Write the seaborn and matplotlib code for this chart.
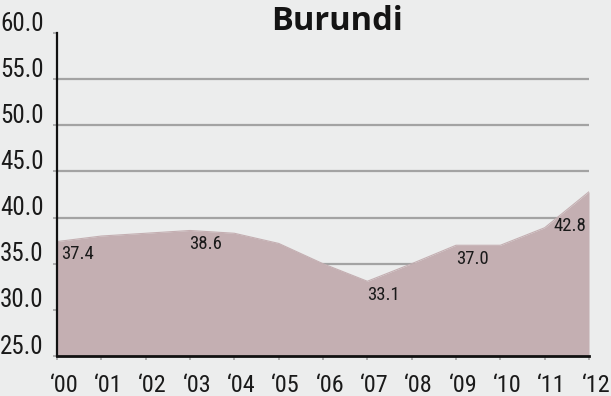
import matplotlib
matplotlib.use("Agg")
import matplotlib.pyplot as plt
import matplotlib.transforms as mtransforms
from matplotlib import font_manager
import seaborn as sns
import pandas as pd

# Data
years = ["‘00", "‘01", "‘02", "‘03", "‘04", "‘05", "‘06", "‘07", "‘08", "‘09", "‘10", "‘11", "‘12"]
values = [37.4, 38.0, 38.3, 38.6, 38.3, 37.2, 35.0, 33.1, 35.0, 37.0, 37.0, 38.9, 42.8]
labelled_years = ["‘00", "‘03", "‘07", "‘09", "‘12"]
y_ticks = [25.0, 30.0, 35.0, 40.0, 45.0, 50.0, 55.0, 60.0]
title = "Burundi"

BG = "#ECEDED"
FILL = "#C4AFB2"
GRID = "#A3A3A3"


def narrow_font():
    """Pick a condensed sans face if one is installed."""
    entries = font_manager.fontManager.ttflist
    wanted = ["Liberation Sans Narrow", "Roboto Condensed", "Open Sans Condensed",
              "DejaVu Sans Condensed", "Noto Sans Condensed"]
    for name in wanted:
        for f in entries:
            if f.name == name and f.weight in (400, "normal", "regular") and f.style == "normal":
                return font_manager.FontProperties(fname=f.fname)
    for f in entries:
        st = str(f.stretch).lower()
        if ("condensed" in st or st in ("75", "62.5", "87.5")) and f.style == "normal" \
                and "Mono" not in f.name and "Serif" not in f.name and f.weight in (400, "normal", "regular"):
            return font_manager.FontProperties(fname=f.fname)
    for f in entries:
        fn = f.fname.lower()
        if ("condensed" in fn or "narrow" in fn) and "bold" not in fn and "italic" not in fn \
                and "oblique" not in fn and "mono" not in fn and "serif" not in fn:
            return font_manager.FontProperties(fname=f.fname)
    return font_manager.FontProperties(family="DejaVu Sans", stretch="condensed")


def bold_font():
    """Pick a static bold humanist sans face for the heading."""
    entries = font_manager.fontManager.ttflist
    for stem in ["opensans-bold.", "notosans-bold.", "lato-bold.", "liberationsans-bold.",
                 "dejavusans-bold."]:
        for f in entries:
            if f.fname.lower().rsplit("/", 1)[-1].startswith(stem):
                return font_manager.FontProperties(fname=f.fname)
    return font_manager.FontProperties(family="DejaVu Sans", weight="bold")


sns.set_theme(style="white")
plt.rcParams["font.family"] = ["DejaVu Sans"]
NARROW = narrow_font()
BOLD = bold_font()


def nfp(size):
    fp = NARROW.copy()
    fp.set_size(size)
    return fp


df = pd.DataFrame({"idx": range(len(years)), "year": years, "value": values})

fig = plt.figure(figsize=(6.11, 3.96), dpi=100, facecolor=BG)
ax = fig.add_axes([57 / 611, 1 - 356 / 396, (589 - 57) / 611, (356 - 33) / 396])
ax.set_facecolor(BG)

# Horizontal guides behind the area
for yv in y_ticks[1:-1]:
    ax.axhline(yv, color=GRID, lw=1.6, zorder=0.5)

ax.fill_between(df["idx"], y_ticks[0], df["value"], color=FILL, lw=0, zorder=1)
sns.lineplot(data=df, x="idx", y="value", color=FILL, lw=0.8, ax=ax, zorder=1.1)

ax.set_xlim(0, len(years) - 1)
ax.set_ylim(y_ticks[0], y_ticks[-1])
ax.set_xlabel("")
ax.set_ylabel("")

# Value annotations
offsets = {
    "‘00": (4, -12, "left"),
    "‘03": (-1, -14, "left"),
    "‘07": (0, -14, "left"),
    "‘09": (0, -14, "left"),
    "‘12": (-3, -34, "right"),
}
for yr in labelled_years:
    i = years.index(yr)
    dx, dy, ha = offsets[yr]
    ax.annotate(f"{values[i]:.1f}", (i, values[i]), xytext=(dx * 0.72, dy * 0.72),
                textcoords="offset points", ha=ha, va="center",
                fontproperties=nfp(13.5), color="#1a1a1a", zorder=3)

# Axes styling
for s in ["top", "right"]:
    ax.spines[s].set_visible(False)
for s in ["left", "bottom"]:
    ax.spines[s].set_color("#111111")
    ax.spines[s].set_zorder(4)
ax.spines["left"].set_linewidth(1.6)
ax.spines["bottom"].set_linewidth(2.0)

ax.set_yticks(y_ticks)
ax.set_yticklabels([f"{v:.1f}" for v in y_ticks], fontproperties=nfp(18), color="#1a1a1a")
ax.set_xticks(range(len(years)))
ax.set_xticklabels(years, fontproperties=nfp(17.5), color="#1a1a1a")
ax.tick_params(axis="y", length=3, width=1.2, color=GRID, pad=6.5, left=True)
ax.tick_params(axis="x", length=3, width=1.2, color=GRID, pad=10, bottom=True)

# Shift the y labels up and the x labels slightly right
up = mtransforms.ScaledTranslation(0, 12 / 100, fig.dpi_scale_trans)
for lab in ax.get_yticklabels():
    lab.set_transform(lab.get_transform() + up)
right = mtransforms.ScaledTranslation(7 / 100, 0, fig.dpi_scale_trans)
for lab in ax.get_xticklabels():
    lab.set_transform(lab.get_transform() + right)

title_fp = BOLD.copy()
title_fp.set_size(23.5)
fig.text(337 / 611, 1 - 22 / 396, title, ha="center", va="center",
         fontproperties=title_fp, color="#141414")

fig.savefig("out.png", dpi=100, facecolor=BG)
